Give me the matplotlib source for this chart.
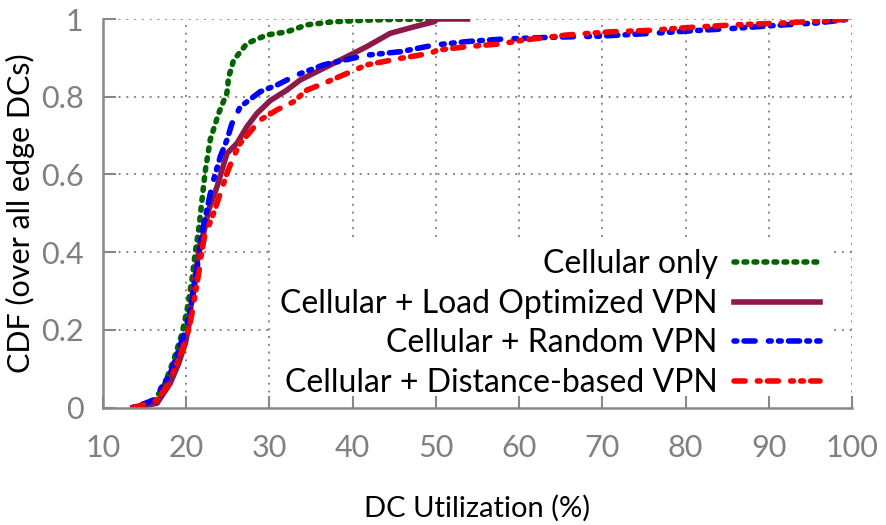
import matplotlib
matplotlib.use('Agg')
import matplotlib.pyplot as plt

plt.rcParams['font.family'] = ['Lato', 'DejaVu Sans']

# curve samples (DC utilization %, CDF)
cell_x = [13.6, 15.0, 16.2, 17.3, 18.5, 19.5, 20.1, 20.7, 21.1, 21.5, 21.9, 22.3, 22.9,
          23.9, 24.9, 25.1, 25.7, 27.3, 29.7, 32.1, 34.5, 37.7, 41.7, 45.0, 49.7]
cell_y = [0.0, 0.01, 0.02, 0.054, 0.122, 0.19, 0.25, 0.33, 0.40, 0.457, 0.534, 0.61, 0.69,
          0.757, 0.81, 0.85, 0.894, 0.937, 0.959, 0.967, 0.985, 0.993, 0.997, 0.999, 1.0]

load_x = [13.6, 15.0, 16.5, 18.1, 19.1, 19.9, 20.3, 20.7, 21.2, 21.7, 22.1, 22.7, 23.7,
          24.3, 24.9, 26.1, 27.3, 28.5, 30.1, 32.1, 33.7, 36.5, 39.3, 41.7, 44.5, 47.4,
          49.8, 50.2, 53.8]
load_y = [0.0, 0.005, 0.011, 0.063, 0.114, 0.165, 0.208, 0.285, 0.354, 0.431, 0.448, 0.508,
          0.568, 0.611, 0.654, 0.68, 0.723, 0.757, 0.79, 0.817, 0.843, 0.873, 0.903, 0.929,
          0.963, 0.98, 0.993, 1.0, 1.0]

rand_x = [13.6, 15.0, 16.1, 18.1, 19.1, 19.9, 20.5, 21.1, 21.5, 21.9, 22.9, 23.3, 24.1,
          24.9, 25.5, 26.5, 27.3, 28.9, 30.9, 33.3, 36.5, 41.7, 45.8, 49.8, 53.8, 57.8,
          63.8, 69.8, 75.9, 81.0, 85.9, 91.9, 95.9, 99.5]
rand_y = [0.0, 0.01, 0.02, 0.088, 0.148, 0.2, 0.25, 0.328, 0.388, 0.45, 0.551, 0.586, 0.646,
          0.689, 0.731, 0.774, 0.787, 0.813, 0.83, 0.856, 0.882, 0.907, 0.916, 0.933, 0.942,
          0.948, 0.953, 0.956, 0.963, 0.97, 0.976, 0.985, 0.99, 0.999]

dist_x = [13.6, 15.0, 16.5, 17.9, 18.9, 19.5, 20.3, 20.7, 21.1, 21.5, 21.9, 22.2, 23.3,
          24.1, 24.9, 25.7, 26.5, 27.7, 28.9, 30.9, 32.9, 34.5, 36.5, 41.7, 45.8, 49.4,
          50.2, 53.8, 57.8, 60.6, 65.8, 71.0, 75.9, 80.3, 85.9, 91.9, 97.9, 99.5]
dist_y = [0.0, 0.008, 0.019, 0.062, 0.114, 0.148, 0.2, 0.242, 0.294, 0.345, 0.405, 0.44, 0.5,
          0.551, 0.603, 0.646, 0.68, 0.71, 0.74, 0.766, 0.787, 0.817, 0.834, 0.882, 0.899,
          0.912, 0.92, 0.929, 0.936, 0.946, 0.959, 0.967, 0.971, 0.978, 0.985, 0.99, 0.997, 1.0]

labels = ['Cellular only', 'Cellular + Load Optimized VPN',
          'Cellular + Random VPN', 'Cellular + Distance-based VPN']
x_ticks = [10, 20, 30, 40, 50, 60, 70, 80, 90, 100]
y_ticks = [0, 0.2, 0.4, 0.6, 0.8, 1]
y_tick_labels = ['0', '0.2', '0.4', '0.6', '0.8', '1']

fig = plt.figure(figsize=(8.86, 5.25), dpi=100)
ax = fig.add_axes([0.1162, 0.2238, 0.8454, 0.74])

ax.plot(cell_x, cell_y, color='#006400', lw=4, linestyle=(0, (0.5, 1.3)),
        dash_capstyle='round', label=labels[0])
ax.plot(load_x, load_y, color='#8b1a4a', lw=4, label=labels[1])
ax.plot(rand_x, rand_y, color='#0000ff', lw=4,
        linestyle=(0, (0.5, 1.3, 2.0, 2.4, 0.5, 1.3, 0.5, 1.3, 2.0, 1.3)),
        dash_capstyle='round', label=labels[2])
ax.plot(dist_x, dist_y, color='#ff0000', lw=4,
        linestyle=(0, (2.0, 2.2, 0.5, 1.3, 2.0, 2.2, 0.5, 1.3, 0.5, 1.3)),
        dash_capstyle='round', label=labels[3])

ax.set_xlim(10, 100)
ax.set_ylim(0, 1)
ax.set_xticks(x_ticks)
ax.set_yticks(y_ticks)
ax.set_yticklabels(y_tick_labels)

# dotted grid drawn by hand so the legend box can sit between grid and ticks
for xv in x_ticks[1:]:
    ax.axvline(xv, color='#888888', linestyle=(0, (1, 3)), lw=1.4, zorder=0.8)
for yv in y_ticks[1:]:
    ax.axhline(yv, color='#888888', linestyle=(0, (1, 3)), lw=1.4, zorder=0.8)

for s in ['top', 'right']:
    ax.spines[s].set_visible(False)
for s in ['left', 'bottom']:
    ax.spines[s].set_color('#888888')
    ax.spines[s].set_linewidth(1.8)
ax.tick_params(direction='in', length=9, width=1.5, color='#888888',
               labelcolor='#808080', labelsize=22)
ax.tick_params(axis='x', pad=19)
ax.tick_params(axis='y', pad=14)

ax.set_xlabel('DC Utilization (%)', fontsize=21, labelpad=24)
ax.set_ylabel('CDF (over all edge DCs)', fontsize=22, labelpad=4)

leg = ax.legend(loc='lower right', bbox_to_anchor=(0.97, 0.0), markerfirst=False,
                fontsize=23, frameon=True, framealpha=1, edgecolor='none',
                facecolor='white', fancybox=False, handlelength=2.7,
                labelspacing=0.3, borderpad=0.3, handletextpad=0.5, borderaxespad=0)
leg.set_zorder(1)
for t in leg.get_texts():
    t.set_ha('right')

fig.savefig('out.png', dpi=100)
